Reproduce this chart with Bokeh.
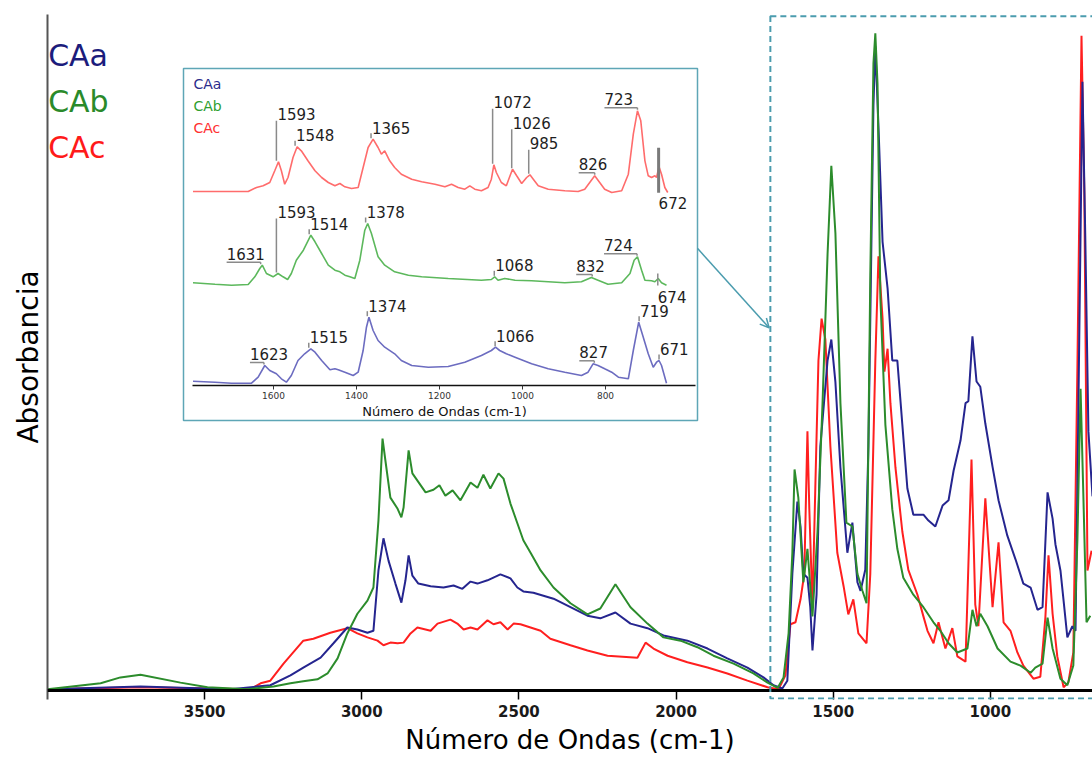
import numpy as np
from bokeh.plotting import figure
from bokeh.models import Range1d, FixedTicker, Arrow, OpenHead, BoxAnnotation, Span
from bokeh.core.properties import value
from bokeh.embed import file_html
from bokeh.resources import INLINE

# ---------------- data (main spectra, absorbance in a.u.) ----------------
CAA_WN = [4000,3704,3418,3291,3227,3186,3131,3090,3046,3014,
          2982,2963,2947,2931,2915,2893,2874,2861,2851,2839,
          2820,2781,2740,2708,2680,2654,2632,2600,2559,2527,
          2505,2486,2454,2390,2336,2282,2241,2193,2145,2091,
          2040,1964,1900,1837,1773,1722,1690,1662,1646,1630,
          1614,1604,1595,1582,1573,1566,1553,1541,1518,1506,
          1493,1477,1455,1439,1423,1413,1398,1388,1372,1366,
          1356,1343,1327,1312,1296,1280,1264,1245,1213,1197,
          1175,1152,1133,1117,1095,1079,1070,1057,1044,1032,
          1016,993,974,946,920,895,872,850,834,818,
          802,793,777,767,755,739,729,720,707,698,
          688,675]
CAA_ABS = [0.2,0.6,0.2,0.8,2.3,3.5,5.0,7.2,9.6,9.3,
           8.8,9.1,18.3,23.2,19.8,16.3,13.4,16.8,20.6,17.5,
           16.3,15.9,15.7,16.0,15.5,16.6,16.3,16.8,17.7,17.1,
           15.7,15.1,14.9,14.0,12.7,11.4,11.0,11.9,10.2,9.5,
           8.4,7.6,6.4,4.9,3.5,2.0,0.8,0.3,1.5,17.8,
           28.8,25.0,17.8,17.2,12.7,6.1,14.6,37.2,50.3,53.5,
           47.0,34.0,21.0,25.6,16.5,15.2,18.4,37.2,89.2,98.2,
           86.0,68.4,61.3,50.3,50.3,40.5,30.8,26.8,26.8,25.9,
           25.0,28.2,29.0,33.5,38.1,43.8,44.1,54.0,47.1,46.3,
           40.7,34.1,29.0,23.6,20.0,16.3,15.7,12.3,12.7,30.2,
           26.2,22.3,18.3,13.7,8.1,9.8,9.1,42.7,92.8,69.2,
           39.5,29.6]

CAB_WN = [4000,3831,3768,3704,3577,3491,3364,3281,3227,3186,
          3141,3109,3077,3046,3014,2982,2963,2947,2934,2925,
          2909,2886,2874,2867,2851,2839,2823,2797,2772,2753,
          2734,2711,2686,2654,2632,2613,2591,2565,2549,2527,
          2505,2486,2463,2431,2390,2336,2282,2241,2193,2145,
          2091,2040,1986,1932,1881,1817,1754,1709,1677,1658,
          1642,1630,1623,1611,1595,1582,1576,1566,1550,1534,
          1518,1506,1493,1477,1458,1439,1423,1407,1394,1382,
          1372,1366,1359,1350,1334,1312,1296,1277,1245,1213,
          1181,1159,1133,1105,1073,1057,1044,1032,1009,977,
          936,904,872,857,834,818,802,777,755,736,
          723,713,704,694,682]
CAB_ABS = [0.2,1.1,2.0,2.4,1.2,0.5,0.2,0.6,1.1,1.4,
           1.7,2.6,4.9,8.7,11.7,13.7,15.7,25.9,38.4,35.1,
           29.4,27.7,26.4,27.9,36.6,33.1,32.0,30.2,30.6,31.3,
           29.7,30.5,29.0,31.7,30.9,32.9,30.8,33.1,32.3,28.5,
           25.5,22.9,21.0,18.3,15.7,13.3,11.6,12.5,16.2,12.7,
           10.2,8.1,7.6,6.6,5.3,4.1,2.6,1.2,0.4,2.0,
           8.7,21.0,33.7,29.4,16.5,21.6,17.8,11.3,24.2,43.8,
           66.5,80.0,69.7,43.8,25.6,25.0,17.8,15.2,13.3,63.3,
           95.6,100.2,92.4,59.9,40.5,27.6,21.6,17.2,14.6,12.7,
           10.4,9.1,7.2,5.8,6.4,12.3,9.8,11.7,9.8,6.4,
           4.4,3.8,2.7,3.5,4.1,11.1,6.4,1.8,0.8,3.8,
           23.0,46.0,29.6,10.4,11.4]

CAC_WN = [4000,3704,3354,3322,3291,3249,3186,3154,3100,3046,
          3014,2982,2950,2931,2909,2886,2867,2845,2823,2781,
          2759,2718,2696,2676,2654,2632,2600,2581,2559,2536,
          2517,2495,2463,2431,2400,2336,2282,2218,2123,2097,
          2072,2027,1964,1900,1837,1773,1709,1674,1652,1636,
          1620,1604,1592,1582,1576,1566,1557,1547,1537,1525,
          1509,1487,1467,1452,1436,1420,1394,1382,1366,1356,
          1343,1337,1327,1318,1302,1280,1261,1232,1213,1200,
          1181,1165,1143,1133,1121,1105,1079,1060,1048,1038,
          1016,993,974,958,936,914,895,863,841,825,
          815,802,787,767,752,736,723,710,701,691,
          678]
CAC_ABS = [0.2,0.5,0.2,1.1,1.5,4.1,7.6,7.9,8.8,9.5,
           8.7,8.1,7.6,6.9,7.3,7.2,7.3,8.7,9.6,9.1,
           10.2,10.8,10.2,9.3,9.6,9.3,10.7,10.1,10.4,9.3,
           10.2,10.1,9.6,9.1,7.9,6.9,6.1,5.3,5.0,7.3,
           6.4,5.3,4.3,3.5,2.6,1.5,0.5,0.2,2.3,10.1,
           10.4,13.9,17.8,39.5,27.6,12.7,30.8,50.3,56.7,53.5,
           37.2,21.0,15.9,11.6,13.9,8.7,7.2,17.8,50.3,66.2,
           56.7,48.6,52.1,43.8,34.0,24.2,18.4,14.6,11.3,9.1,
           7.2,10.4,6.4,7.8,9.5,5.2,4.4,35.2,13.1,9.8,
           29.3,12.7,22.6,10.4,9.1,5.8,3.8,1.8,2.1,11.1,
           20.6,11.7,5.2,0.5,1.2,5.8,49.4,99.8,75.8,18.3,
           21.3]

# ---------------- data (inset, zoom 1800-650 cm-1, relative intensity) ----------------
IN_CAC_WN = [1794,1741,1701,1661,1641,1625,1609,1597,1588,1581,
             1573,1565,1553,1543,1533,1517,1500,1484,1468,1452,
             1440,1428,1412,1396,1384,1372,1360,1348,1340,1332,
             1320,1308,1292,1267,1243,1211,1187,1171,1155,1139,
             1127,1115,1099,1083,1075,1069,1063,1051,1039,1030,
             1024,1014,1002,990,982,974,962,938,898,866,
             850,838,826,814,802,785,761,745,733,723,
             715,705,697,689,681,677,671,665,657,650]
IN_CAC_VAL = [0,0,0,0,4.0,5.7,9.0,20.7,29.7,20.7,
              7.3,14.0,34.0,44.7,40.7,30.7,20.7,14.0,9.0,5.7,
              8.0,4.7,3.0,4.0,24.0,44.0,52.3,44.0,37.3,40.7,
              30.7,24.0,17.3,12.3,9.7,7.3,4.7,7.3,4.0,2.3,
              5.7,2.3,0.7,4.0,12.3,26.7,19.0,9.0,5.7,15.7,
              22.3,15.7,8.0,14.0,16.7,12.3,5.7,2.3,0.7,0,
              2.3,9.0,15.7,9.0,2.3,-1.0,0.7,17.3,57.3,80.7,
              70.7,30.7,15.7,14.0,15.7,14.0,24.7,17.3,4.0,-1.0]

IN_CAB_WN = [1794,1741,1701,1661,1645,1633,1627,1617,1601,1589,
             1577,1566,1557,1545,1528,1510,1500,1484,1468,1452,
             1440,1428,1416,1404,1392,1380,1373,1364,1348,1332,
             1308,1275,1243,1179,1099,1075,1067,1059,1043,1018,
             978,938,898,858,834,818,794,761,741,731,
             723,713,705,689,681,673,665,653]
IN_CAB_VAL = [0.7,-0.7,-1.7,-1.0,6.7,15.0,18.3,10.0,6.7,10.0,
              6.7,4.0,10.0,23.3,33.3,48.3,41.7,30.0,18.3,13.3,
              11.7,8.3,6.7,5.0,23.3,53.3,60.0,50.0,26.7,18.3,
              11.7,8.3,6.7,5.0,3.3,4.0,6.7,3.3,5.0,3.3,
              2.7,1.7,0.7,1.7,6.0,3.3,-0.7,0.7,10.0,23.3,
              26.7,13.3,3.3,2.7,1.7,5.0,0.7,-1.7]

IN_CAA_WN = [1794,1741,1701,1653,1637,1621,1609,1593,1581,1569,
             1557,1541,1525,1510,1500,1484,1464,1452,1444,1428,
             1408,1396,1384,1376,1370,1360,1348,1332,1308,1292,
             1267,1227,1179,1139,1099,1075,1065,1055,1039,1018,
             978,938,898,858,842,830,818,802,785,769,
             745,733,720,709,697,685,677,671,665,653]
IN_CAA_VAL = [1.3,0.3,-0.7,-0.7,5.3,17.0,12.0,8.7,3.7,0.3,
              7.0,22.0,28.7,33.7,30.3,22.0,12.7,13.7,12.7,10.3,
              7.0,10.3,32.0,55.3,65.3,52.0,42.0,35.3,28.7,22.0,
              17.0,15.3,16.0,20.3,27.0,32.0,35.3,32.0,28.7,25.3,
              18.7,13.7,10.3,7.0,10.3,18.7,17.0,13.7,10.3,5.3,
              3.7,32.0,60.3,45.3,28.7,15.3,20.3,22.0,17.0,-0.7]

SERIES = ["CAa", "CAb", "CAc"]
MAIN_TICKS = [3500, 3000, 2500, 2000, 1500, 1000]
INSET_TICKS = [1600, 1400, 1200, 1000, 800]

# peak annotations in the inset: (series, wavenumber, kind, leader length / text shift px)
PEAKS = [
    ("CAc", 1593, "v", 41), ("CAc", 1548, "t", 0), ("CAc", 1365, "t", 0),
    ("CAc", 1072, "v", 56), ("CAc", 1026, "v", 40), ("CAc", 985, "v", 25),
    ("CAc", 826, "u", -16), ("CAc", 723, "u", -33), ("CAc", 672, "d", 0),
    ("CAb", 1631, "u", -34), ("CAb", 1593, "v", 55), ("CAb", 1514, "t", 0),
    ("CAb", 1378, "t", 0), ("CAb", 1068, "t", 0), ("CAb", 832, "u", -16),
    ("CAb", 724, "u", -33), ("CAb", 674, "d2", 0),
    ("CAa", 1374, "t", 0), ("CAa", 1623, "u", -14), ("CAa", 1515, "t", 0),
    ("CAa", 1066, "t", 0), ("CAa", 827, "u", -15), ("CAa", 719, "t", 0),
    ("CAa", 671, "t", 0),
]

# ---------------- styles / layout ----------------
MAIN_COL = {"CAa": "#25258f", "CAb": "#2c8c2c", "CAc": "#ff1f1f"}
LEG_COL = {"CAa": "#1c1c7c", "CAb": "#2a8a2a", "CAc": "#ff1a1a"}
INSET_COL = {"CAa": "#6c6cc0", "CAb": "#5cb85c", "CAc": "#ff6c6c"}
INSET_LEG_COL = {"CAa": "#2c2c8c", "CAb": "#2f9e2f", "CAc": "#ff3030"}
INSET_OFFSET = {"CAa": 3, "CAb": 102, "CAc": 194}
TEAL = "#4b9cae"
FONT = "DejaVu Sans"

W, H = 1092, 758
BL, BR, BT, BB = 47, 0, 14, 59
FRAME_W = W - BL - BR
FRAME_H = H - BT - BB
PX_PER_UNIT = 6.56
X0, X1 = 4000, 675
Y1 = 103.05
Y0 = Y1 - FRAME_H / PX_PER_UNIT
# inset coordinate system (scale 0.415 px per cm-1, 1 unit = 1 px vertically)
S = 0.415
IX0 = 1600 + 226 / S
IX1 = IX0 - FRAME_W / S
IY1 = 371
IY0 = IY1 - FRAME_H

p = figure(width=W, height=H, x_range=Range1d(X0, X1), y_range=Range1d(Y0, Y1),
           output_backend="svg", toolbar_location=None,
           min_border_left=BL, min_border_right=BR, min_border_top=BT, min_border_bottom=BB)
p.extra_x_ranges = {"inset": Range1d(IX0, IX1)}
p.extra_y_ranges = {"inset": Range1d(IY0, IY1)}
p.outline_line_color = None
p.grid.visible = False

# x axis (baseline drawn as a span at zero absorbance, ticks point down from it)
p.xaxis.ticker = FixedTicker(ticks=MAIN_TICKS)
p.xaxis.axis_line_color = None
p.xaxis.major_tick_out = 0
p.xaxis.major_tick_in = 9
p.xaxis.major_tick_line_width = 1.5
p.xaxis.major_tick_line_color = "black"
p.xaxis.minor_tick_out = 0
p.xaxis.minor_tick_in = 0
p.xaxis.major_label_text_font = FONT
p.xaxis.major_label_text_font_size = "15px"
p.xaxis.major_label_text_font_style = "bold"
p.xaxis.major_label_text_color = "#1a1a1a"
p.xaxis.major_label_standoff = 5
p.xaxis.axis_label = "Número de Ondas (cm-1)"
p.xaxis.axis_label_text_font = FONT
p.xaxis.axis_label_text_font_size = "26px"
p.xaxis.axis_label_text_font_style = "normal"
p.xaxis.axis_label_text_color = "black"
p.xaxis.axis_label_standoff = 5
p.add_layout(Span(location=0, dimension="width", line_color="black", line_width=3))
# y axis
p.yaxis.ticker = FixedTicker(ticks=[])
p.yaxis.axis_line_color = "#555555"
p.yaxis.axis_line_width = 2
p.yaxis.major_tick_out = 0
p.yaxis.minor_tick_out = 0
p.yaxis.axis_label = "Absorbancia"
p.yaxis.axis_label_text_font = FONT
p.yaxis.axis_label_text_font_size = "28px"
p.yaxis.axis_label_text_font_style = "normal"
p.yaxis.axis_label_text_color = "black"
p.yaxis.axis_label_standoff = 3

# main spectra
main = {"CAa": (CAA_WN, CAA_ABS), "CAb": (CAB_WN, CAB_ABS), "CAc": (CAC_WN, CAC_ABS)}
for key in ["CAc", "CAa", "CAb"]:
    xs, ys = main[key]
    p.line(xs, ys, line_color=MAIN_COL[key], line_width=2)

# main legend (colored names)
for i, key in enumerate(SERIES):
    p.text(x=[3998], y=[96.8 - 7.0 * i], text=[key], text_color=LEG_COL[key],
           text_font=value(FONT), text_font_size="30px", text_baseline="middle", text_align="left")

# dashed zoom box + arrow
p.add_layout(BoxAnnotation(left=1700, right=600, top=102.8, bottom=-1.2, fill_color=None,
                           line_color=TEAL, line_alpha=1.0, line_dash="6 4", line_width=2))
p.add_layout(Arrow(end=OpenHead(size=9, line_color=TEAL, line_width=1.5),
                   x_start=1932, y_start=67.4, x_end=1704, y_end=55.3,
                   line_color=TEAL, line_width=1.5))

# ---------------- inset ----------------
kw = dict(x_range_name="inset", y_range_name="inset")
p.quad(left=[1600 + 90 / S], right=[1600 - 424 / S], bottom=[-35], top=[317],
       fill_color="white", line_color="#5ea6b6", line_width=1.5, **kw)
inset = {"CAa": (IN_CAA_WN, IN_CAA_VAL), "CAb": (IN_CAB_WN, IN_CAB_VAL), "CAc": (IN_CAC_WN, IN_CAC_VAL)}
for key in SERIES:
    xs, ys = inset[key]
    p.line(xs, [v + INSET_OFFSET[key] for v in ys], line_color=INSET_COL[key], line_width=1.6, **kw)

# inset axis
p.line([1600 + 81 / S, 1600 - 422 / S], [0, 0], line_color="#111111", line_width=1.6, **kw)
p.segment(x0=INSET_TICKS, y0=[0] * 5, x1=INSET_TICKS, y1=[-4] * 5, line_color="#333333", line_width=1, **kw)
p.text(x=INSET_TICKS, y=[-6] * 5, text=[str(t) for t in INSET_TICKS], text_font=value(FONT),
       text_font_size="9px", text_color="#333333", text_align="center", text_baseline="top", **kw)
p.text(x=[1600 - 171 / S], y=[-18], text=["Número de Ondas (cm-1)"], text_font=value(FONT),
       text_font_size="13px", text_color="#111111", text_align="center", text_baseline="top", **kw)

# inset legend
for i, key in enumerate(SERIES):
    p.text(x=[1600 + 80 / S], y=[302 - 22 * i], text=[key], text_color=INSET_LEG_COL[key],
           text_font=value(FONT), text_font_size="14px", text_baseline="middle", text_align="left", **kw)

# inset peak labels (text placed by its vertical middle)
HALF = 6.5
lx0, ly0, lx1, ly1 = [], [], [], []
tx, ty, tt, tb = [], [], [], []
thick = []
for key, wn, kind, a in PEAKS:
    xs, ys = inset[key]
    xs = np.array(xs, float)
    ys = np.array(ys, float)
    pk = INSET_OFFSET[key] + ys[np.abs(xs - wn) <= 10].max()
    if kind == "v":
        lx0 += [wn]; ly0 += [pk + 1]; lx1 += [wn]; ly1 += [pk + a]
        tx.append(wn - 1 / S); ty.append(pk + a + HALF); tt.append(str(wn)); tb.append("middle")
    elif kind == "t":
        lx0 += [wn]; ly0 += [pk + 1]; lx1 += [wn]; ly1 += [pk + 6]
        tx.append(wn - 1 / S); ty.append(pk + 5 + HALF); tt.append(str(wn)); tb.append("middle")
    elif kind == "u":
        lx0 += [wn, wn]; ly0 += [pk + 1, pk + 3]; lx1 += [wn, wn - a / S]; ly1 += [pk + 3, pk + 3]
        tx.append(wn - a / S); ty.append(pk + 5 + HALF); tt.append(str(wn)); tb.append("middle")
    elif kind == "d":
        thick.append((wn, pk + 19, pk - 26))
        tx.append(wn); ty.append(pk - 30); tt.append(str(wn)); tb.append("top")
    elif kind == "d2":
        lx0 += [wn]; ly0 += [pk + 5]; lx1 += [wn]; ly1 += [pk - 7]
        tx.append(wn); ty.append(pk - 12); tt.append(str(wn)); tb.append("top")

p.segment(x0=lx0, y0=ly0, x1=lx1, y1=ly1, line_color="#8a8a8a", line_width=1.5, **kw)
for wn, ya, yb in thick:
    p.segment(x0=[wn], y0=[ya], x1=[wn], y1=[yb], line_color="#7a7a7a", line_width=3, **kw)
for x, y, t, b in zip(tx, ty, tt, tb):
    p.text(x=[x], y=[y], text=[t], text_font=value(FONT), text_font_size="15px",
           text_color="#1e1e1e", text_align="left", text_baseline=b, **kw)

open("out.html", "w").write(file_html(p, INLINE))
